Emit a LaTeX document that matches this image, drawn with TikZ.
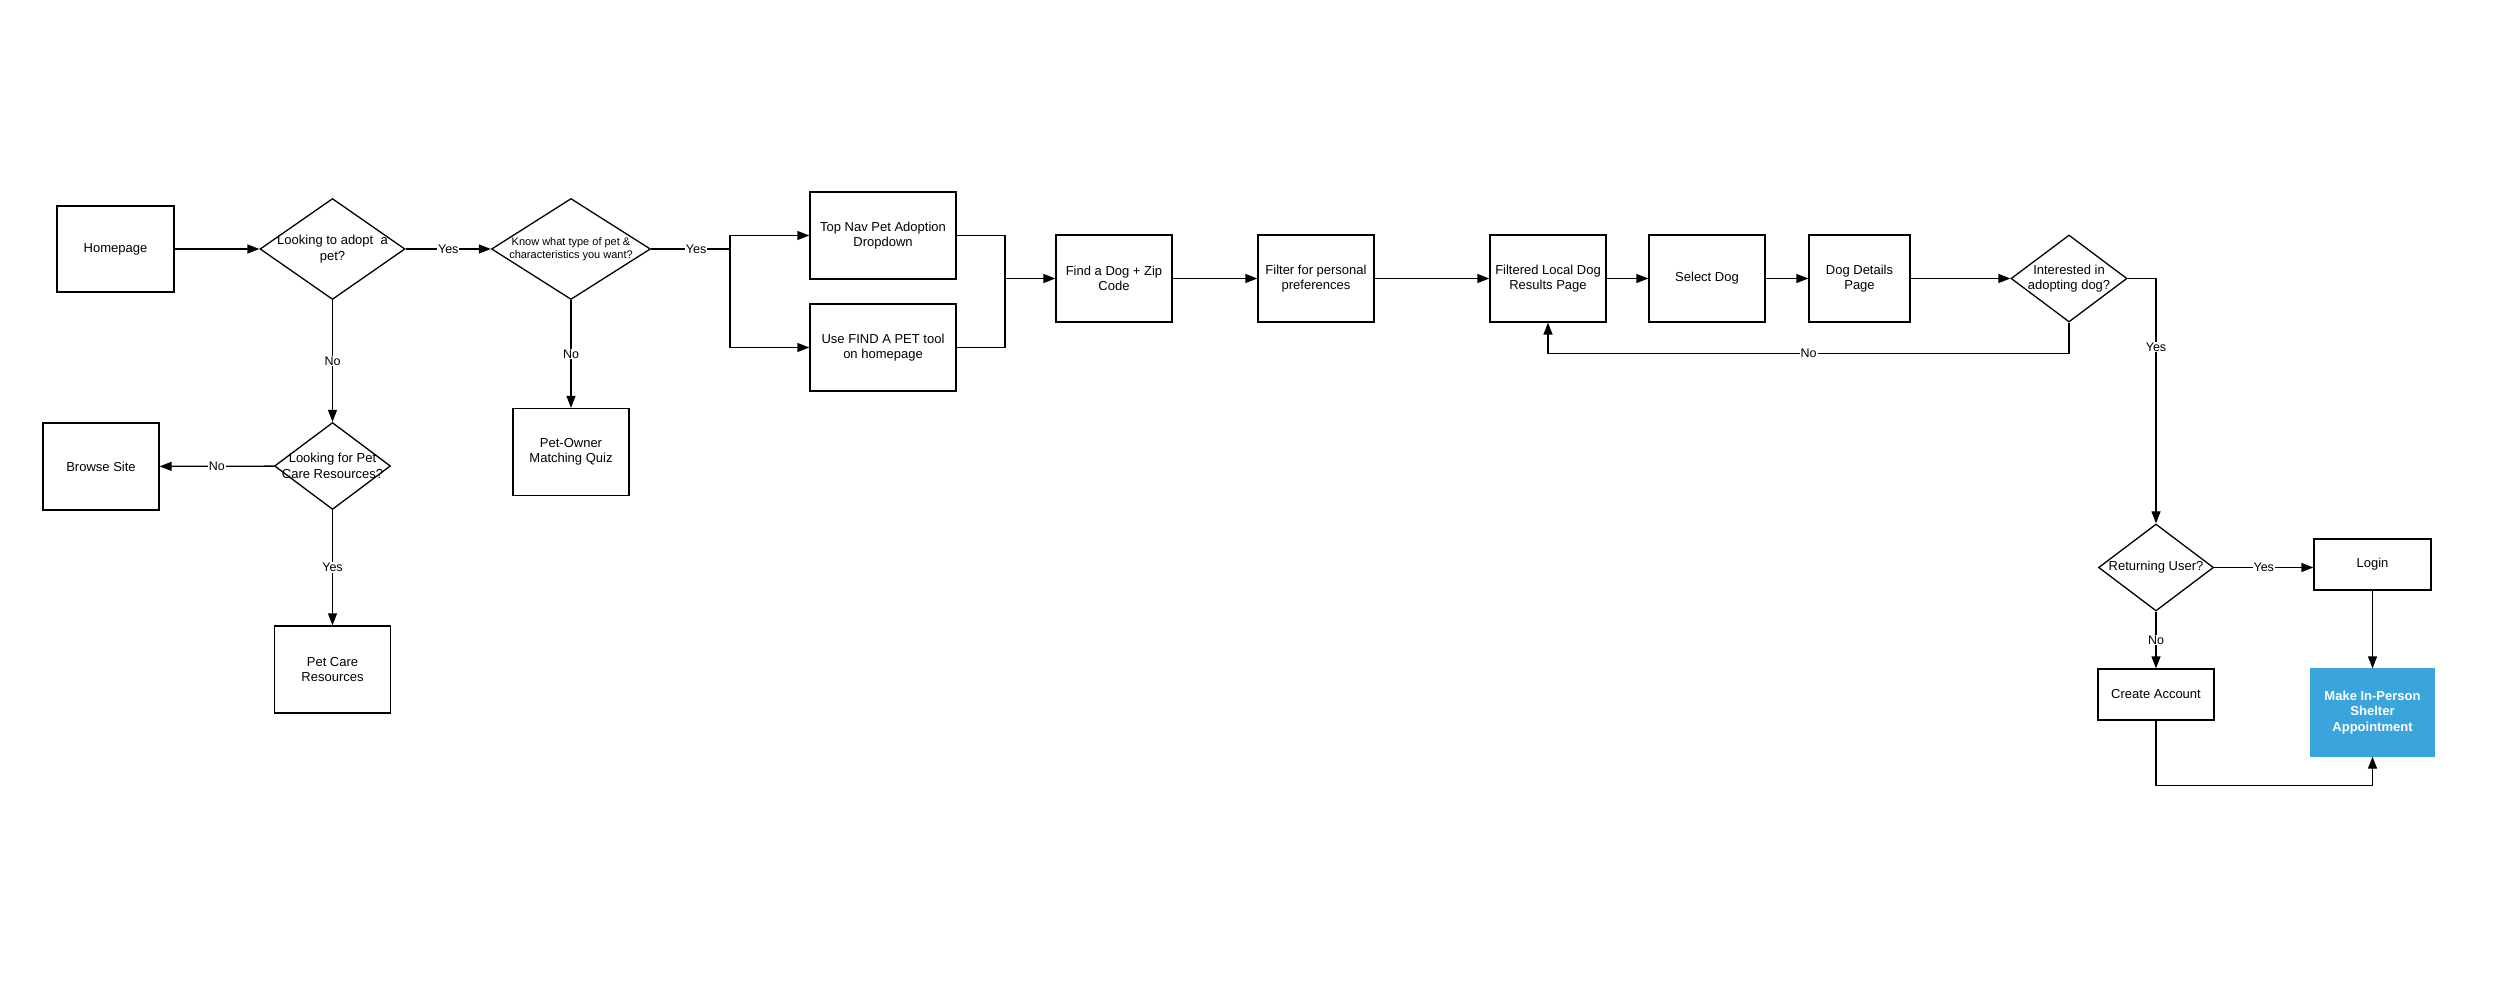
\documentclass[tikz,border=0pt]{standalone}
\usepackage{fontspec}
\setmainfont{Liberation Sans}
\usetikzlibrary{arrows.meta,shapes.geometric}
\definecolor{lucidblue}{HTML}{3AA5DC}

\begin{document}
\begin{tikzpicture}[x=1pt, y=-1pt,
  box/.style={draw, fill=white, line width=1.3pt, inner sep=0pt, align=center, minimum width=116pt, minimum height=87pt, font=\fontsize{13}{15.5}\selectfont},
  decision/.style={diamond, draw, fill=white, line width=1.3pt, inner sep=0pt, minimum width=116pt, minimum height=87pt},
  dtext/.style={align=center, inner sep=0pt, font=\fontsize{13}{15.5}\selectfont},
  wire/.style={line width=1.3pt},
  flow/.style={line width=1.3pt, -{Triangle[length=12pt,width=9pt]}},
  lab/.style={fill=white, inner sep=1pt, font=\fontsize{12.5}{14}\selectfont}]
  \useasboundingbox (0,0) rectangle (2500,984);
  % adopt or not
  \node[box, minimum width=117pt, minimum height=86pt] (home) at (115.5,249) {Homepage};
  \node[decision, minimum width=145pt, minimum height=101pt, label={[dtext]center:{Looking to adopt\ \ a\\pet?}}] (adopt) at (332.5,249) {};
  \node[decision, minimum width=159pt, minimum height=101pt, label={[dtext, font=\fontsize{11}{13}\selectfont]center:{Know what type of pet \&\\characteristics you want?}}] (know) at (571,249) {};
  \node[box] (quiz) at (571,452) {Pet-Owner\\Matching Quiz};
  \node[decision, label={[dtext]center:{Looking for Pet\\Care Resources?}}] (petcare) at (332.5,466) {};
  \node[box] (browse) at (101,466.5) {Browse Site};
  \node[box] (resources) at (332.5,669.5) {Pet Care\\Resources};
  % search path
  \node[box, minimum width=146pt] (topnav) at (883,235.5) {Top Nav Pet Adoption\\Dropdown};
  \node[box, minimum width=146pt] (findpet) at (883,347.5) {Use FIND A PET tool\\on homepage};
  \node[box] (finddog) at (1114,278.5) {Find a Dog + Zip\\Code};
  \node[box] (filter) at (1316,278.5) {Filter for personal\\preferences};
  \node[box] (results) at (1548,278.5) {Filtered Local Dog\\Results Page};
  \node[box] (select) at (1707,278.5) {Select Dog};
  \node[box, minimum width=101pt] (details) at (1859.5,278.5) {Dog Details\\Page};
  \node[decision, label={[dtext]center:{Interested in\\adopting dog?}}] (interest) at (2069,278.5) {};
  % account
  \node[decision, minimum width=115pt, label={[dtext]center:{Returning User?}}] (returning) at (2156,567.5) {};
  \node[box, minimum width=117pt, minimum height=51pt] (login) at (2372.5,564.5) {Login};
  \node[box, minimum height=51pt] (create) at (2156,694.5) {Create Account};
  \node[box, minimum width=123pt, fill=lucidblue, draw=lucidblue, text=white, font=\fontsize{13}{15.5}\selectfont\bfseries] (shelter) at (2372.5,712.5) {Make In-Person\\Shelter\\Appointment};
  \coordinate (split) at (730,249);
  \coordinate (merge) at (1005,278.5);

  \draw[flow] (home) -- (adopt);
  \draw[flow] (adopt) -- node[lab]{Yes} (know);
  \draw[flow] (adopt) -- node[lab]{No} (petcare);
  \draw[flow] (know) -- node[lab]{No} (quiz);
  \draw[flow] (petcare) -- node[lab]{No} (browse);
  \draw[flow] (petcare) -- node[lab]{Yes} (resources);
  \draw[wire] (know) -- node[lab, pos=0.57]{Yes} (split);
  \draw[flow] (split) |- (topnav);
  \draw[flow] (split) |- (findpet);
  \draw[wire] (topnav) -| (merge);
  \draw[wire] (findpet) -| (merge);
  \draw[flow] (merge) -- (finddog);
  \draw[flow] (finddog) -- (filter);
  \draw[flow] (filter) -- (results);
  \draw[flow] (results) -- (select);
  \draw[flow] (select) -- (details);
  \draw[flow] (details) -- (interest);
  \draw[flow] (interest.south) -- ++(0,31) -| node[lab, pos=0.25]{No} (results.south);
  \draw[flow] (interest) -| node[lab, pos=0.64]{Yes} (returning);
  \draw[flow] (returning) -- node[lab]{Yes} (returning -| login.west);
  \draw[flow] (returning) -- node[lab]{No} (create);
  \draw[flow] (login) -- (shelter);
  \draw[flow] (create.south) -- ++(0,65) -| (shelter.south);
\end{tikzpicture}
\end{document}
